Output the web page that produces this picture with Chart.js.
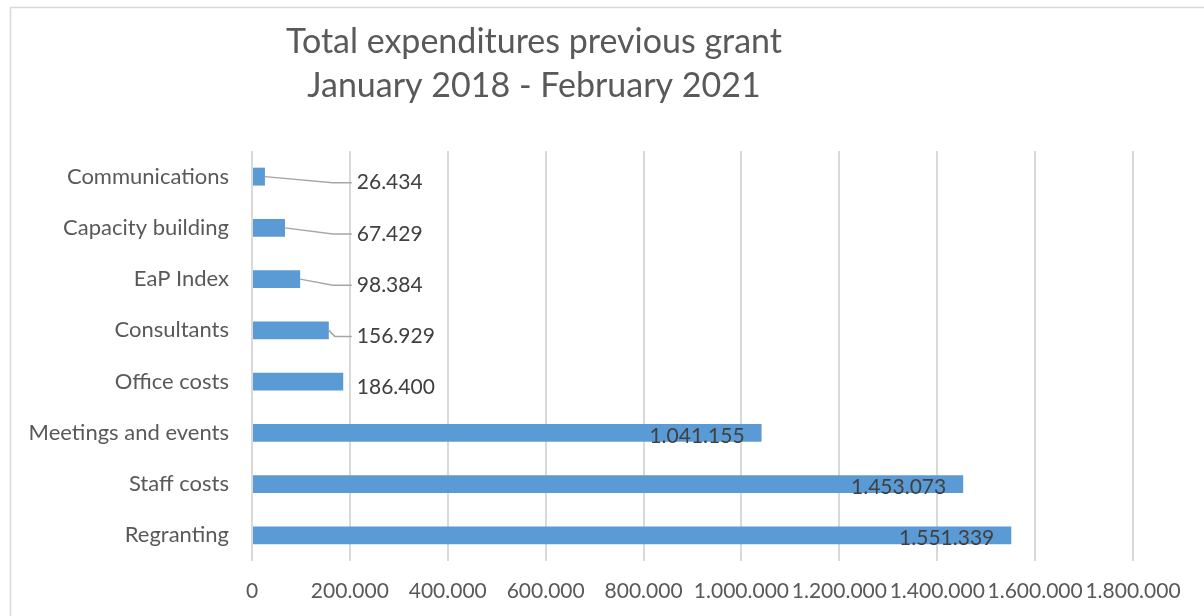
<!DOCTYPE html>
<html><head><meta charset="utf-8">
<script src="https://cdn.jsdelivr.net/npm/chart.js@4/dist/chart.umd.min.js"></script>
<style>html,body{margin:0;padding:0;background:#fff;}#wrap{width:1204px;height:616px;position:relative;}</style>
</head><body><div id="wrap"><canvas id="c" width="1204" height="616"></canvas></div>
<script>
const categories = ["Communications","Capacity building","EaP Index","Consultants","Office costs","Meetings and events","Staff costs","Regranting"];
const expenditures = [26434,67429,98384,156929,186400,1041155,1453073,1551339];
const titleLines = ["Total expenditures previous grant","January 2018 - February 2021"];
const xTickMin = 0, xTickMax = 1800000, xTickStep = 200000;

const FONT = "Lato, 'Open Sans', sans-serif";
function fmt(v){ return String(Math.round(v)).replace(/\B(?=(\d{3})+(?!\d))/g, "."); }

const framePlugin = {
  id: 'frame',
  beforeDraw(chart){
    const ctx = chart.ctx;
    ctx.save();
    ctx.strokeStyle = '#D9D9D9'; ctx.lineWidth = 1.5;
    ctx.beginPath(); ctx.moveTo(10.5, 616); ctx.lineTo(10.5, 7.5); ctx.lineTo(1204, 7.5); ctx.stroke();
    ctx.restore();
  },
  afterDraw(chart){
    const ctx = chart.ctx;
    ctx.save();
    ctx.fillStyle = '#595959';
    ctx.font = "34px " + FONT;
    ctx.textAlign = 'center'; ctx.textBaseline = 'middle';
    ctx.fillText(titleLines[0], 534, 42);
    ctx.fillText(titleLines[1], 534, 86);
    // data labels
    const meta = chart.getDatasetMeta(0);
    const xs = chart.scales.x;
    ctx.font = "21px " + FONT;
    meta.data.forEach((bar, i) => {
      const v = expenditures[i];
      const txt = fmt(v);
      if (v > 500000) {
        ctx.fillStyle = '#404040';
        ctx.textAlign = 'right'; ctx.textBaseline = 'middle';
        ctx.fillText(txt, bar.x - 17, bar.y + 3);
      } else {
        const lx = xs.getPixelForValue(210000);
        const ly = bar.y + 6;
        ctx.fillStyle = '#404040';
        ctx.textAlign = 'left'; ctx.textBaseline = 'middle';
        ctx.fillText(txt, lx + 2, ly);
        if (lx - bar.x > 12) {
          ctx.strokeStyle = '#A6A6A6'; ctx.lineWidth = 1.5;
          ctx.beginPath();
          ctx.moveTo(bar.x, bar.y);
          const bend = Math.max(bar.x + 6, lx - 22);
          ctx.lineTo(bend, ly);
          ctx.lineTo(lx - 3, ly);
          ctx.stroke();
        }
      }
    });
    ctx.restore();
  }
};

new Chart(document.getElementById('c'), {
  type: 'bar',
  data: {
    labels: categories,
    datasets: [{
      data: expenditures,
      backgroundColor: '#5B9BD5',
      borderWidth: 0,
      categoryPercentage: 1,
      barPercentage: 0.35
    }]
  },
  options: {
    indexAxis: 'y',
    responsive: false,
    animation: false,
    devicePixelRatio: 1,
    layout: { padding: { top: 151, right: 71, left: 0, bottom: 0 } },
    plugins: { legend: { display: false }, title: { display: false }, tooltip: { enabled: false } },
    scales: {
      x: {
        min: xTickMin, max: xTickMax,
        ticks: { stepSize: xTickStep, color: '#595959', font: { family: FONT, size: 21 }, padding: 18, callback: v => fmt(v), maxRotation: 0, autoSkip: false },
        grid: { color: '#D9D9D9', lineWidth: 2, drawTicks: false },
        border: { display: false },
        afterFit(s){ s.height = 55; }
      },
      y: {
        ticks: { color: '#595959', font: { family: FONT, size: 22 }, padding: 23 },
        grid: { display: false, drawTicks: false },
        border: { display: false },
        afterFit(s){ s.width = 252; }
      }
    }
  },
  plugins: [framePlugin]
});
</script></body></html>
